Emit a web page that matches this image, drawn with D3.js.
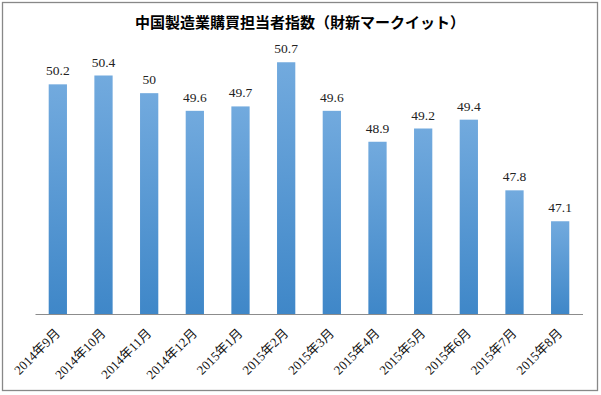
<!DOCTYPE html>
<html>
<head>
  <meta charset="utf-8">
  <script src="https://d3js.org/d3.v7.min.js"></script>
  <style>
    body { margin: 0; background: #fff; }
    svg text { font-family: "Liberation Serif", "Noto Sans CJK JP", serif; }
  </style>
</head>
<body>
  <div id="chart"></div>
  <script>
    // data
    var months = ['2014年9月', '2014年10月', '2014年11月', '2014年12月', '2015年1月', '2015年2月',
                  '2015年3月', '2015年4月', '2015年5月', '2015年6月', '2015年7月', '2015年8月'];
    var pmi = [50.2, 50.4, 50, 49.6, 49.7, 50.7, 49.6, 48.9, 49.2, 49.4, 47.8, 47.1];
    var yRange = [45, 51];

    var W = 601, H = 395;
    var margin = { top: 49, right: 18, bottom: 81, left: 35 };
    var width = W - margin.left - margin.right;
    var height = H - margin.top - margin.bottom;

    var svg = d3.select('#chart').append('svg')
      .attr('width', W)
      .attr('height', H);

    var grad = svg.append('defs').append('linearGradient')
      .attr('id', 'barGrad')
      .attr('x1', 0).attr('y1', 0).attr('x2', 0).attr('y2', 1);
    grad.append('stop').attr('offset', '0%').attr('stop-color', '#72aade');
    grad.append('stop').attr('offset', '100%').attr('stop-color', '#3f87c8');

    // outer frame
    svg.append('rect')
      .attr('x', 2.5).attr('y', 2.5)
      .attr('width', W - 6).attr('height', H - 7)
      .attr('fill', 'none')
      .attr('stroke', '#888')
      .attr('stroke-width', 1.3);

    svg.append('text')
      .attr('x', 300)
      .attr('y', 28)
      .attr('text-anchor', 'middle')
      .style('font-family', '"Noto Sans CJK JP", sans-serif')
      .style('font-size', '15px')
      .style('font-weight', 'bold')
      .text('中国製造業購買担当者指数（財新マークイット）');

    var g = svg.append('g')
      .attr('transform', 'translate(' + margin.left + ',' + margin.top + ')');

    var x = d3.scaleBand()
      .domain(months)
      .range([0, width])
      .paddingInner(0.6)
      .paddingOuter(0.3);

    var y = d3.scaleLinear()
      .domain(yRange)
      .range([height, 0]);

    g.selectAll('.bar')
      .data(pmi)
      .enter()
      .append('rect')
      .attr('class', 'bar')
      .attr('x', function(d, i) { return x(months[i]); })
      .attr('y', function(d) { return y(d); })
      .attr('width', x.bandwidth())
      .attr('height', function(d) { return height - y(d); })
      .attr('fill', 'url(#barGrad)');

    g.selectAll('.val')
      .data(pmi)
      .enter()
      .append('text')
      .attr('class', 'val')
      .attr('x', function(d, i) { return x(months[i]) + x.bandwidth() / 2; })
      .attr('y', function(d) { return y(d) - 9; })
      .attr('text-anchor', 'middle')
      .style('font-size', '13.5px')
      .attr('fill', '#222')
      .text(function(d) { return d; });

    var xAxis = g.append('g')
      .attr('transform', 'translate(0,' + height + ')')
      .call(d3.axisBottom(x).tickSize(0).tickPadding(0));
    xAxis.select('.domain').attr('stroke', '#8c8c8c').attr('d', 'M0.5,0.5H' + width);
    xAxis.selectAll('text')
      .style('font-size', '13px')
      .attr('fill', '#111')
      .style('text-anchor', 'end')
      .attr('dx', '0')
      .attr('dy', '0')
      .attr('transform', 'translate(3,20) rotate(-45)');
  </script>
</body>
</html>
